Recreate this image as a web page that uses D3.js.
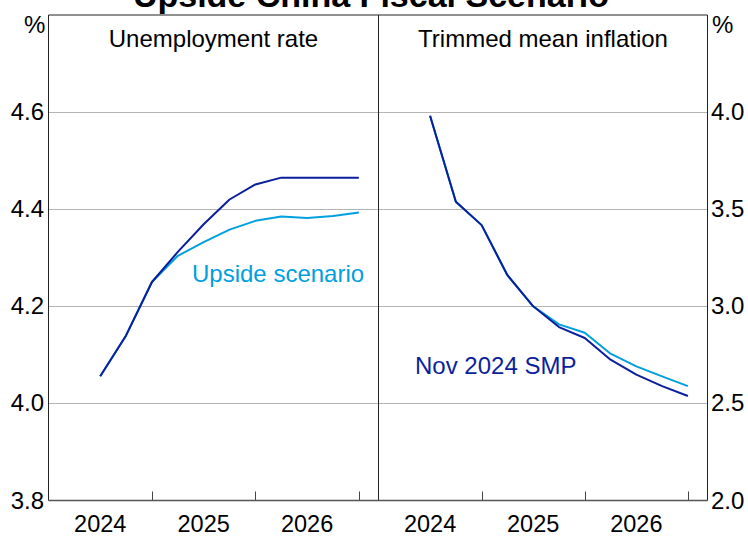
<!DOCTYPE html>
<html>
<head>
<meta charset="utf-8">
<script src="https://cdn.jsdelivr.net/npm/d3@7"></script>
<style>
  body { margin: 0; background: #fff; }
  svg { font-family: "Liberation Sans", Arial, sans-serif; }
</style>
</head>
<body>
<div class="graph"></div>
<script>
// quarterly points, Jun 2024 .. Dec 2026 (as decimal years)
const quarters = [2024.5, 2024.75, 2025.0, 2025.25, 2025.5, 2025.75, 2026.0, 2026.25, 2026.5, 2026.75, 2027.0];
const yearLabels = [2024, 2025, 2026];

const unempSmp    = [4.056, 4.14, 4.25, 4.312, 4.369, 4.42, 4.451, 4.465, 4.465, 4.465, 4.465];
const unempUpside = [4.056, 4.14, 4.25, 4.304, 4.332, 4.358, 4.376, 4.385, 4.382, 4.386, 4.393];

const inflSmp    = [3.981, 3.538, 3.418, 3.16, 3.0, 2.893, 2.837, 2.725, 2.648, 2.589, 2.538];
const inflUpside = [3.981, 3.538, 3.418, 3.16, 3.0, 2.907, 2.864, 2.756, 2.691, 2.639, 2.589];

const leftTicks = [3.8, 4.0, 4.2, 4.4, 4.6];
const rightTicks = [2.0, 2.5, 3.0, 3.5, 4.0];

const darkBlue = "#0b1f9c";
const lightBlue = "#00a0df";

var width = 748, height = 536;
var plotTop = 15, plotBottom = 500.5;
var leftX = 48.5, midX = 378.5, rightX = 707.5;

const svg = d3.select(".graph").append("svg")
  .attr("width", width)
  .attr("height", height);

var yL = d3.scaleLinear().domain([3.8, 4.8]).range([plotBottom, plotTop]);
var yR = d3.scaleLinear().domain([2.0, 4.5]).range([plotBottom, plotTop]);
var xL = d3.scaleLinear().domain([2024, 2027.19]).range([leftX, midX]);
var xR = d3.scaleLinear().domain([2024, 2027.19]).range([midX, rightX]);

// gridlines (skip the bottom one, that's the axis)
svg.append("g").selectAll("line")
  .data(leftTicks.slice(1))
  .enter().append("line")
  .attr("x1", leftX).attr("x2", rightX)
  .attr("y1", d => Math.round(yL(d)) + 0.5)
  .attr("y2", d => Math.round(yL(d)) + 0.5)
  .attr("stroke", "#b4b4b4")
  .attr("stroke-width", 1);

// y tick labels
svg.append("g").selectAll("text")
  .data(leftTicks)
  .enter().append("text")
  .attr("x", 44).attr("y", d => yL(d) + 8)
  .attr("text-anchor", "end")
  .attr("font-size", 24)
  .text(d => d.toFixed(1));

svg.append("g").selectAll("text")
  .data(rightTicks)
  .enter().append("text")
  .attr("x", 711).attr("y", d => yR(d) + 8)
  .attr("font-size", 24)
  .text(d => d.toFixed(1));

svg.append("text").attr("x", 24).attr("y", 33).attr("font-size", 24).text("%");
svg.append("text").attr("x", 712).attr("y", 33).attr("font-size", 24).text("%");

// x ticks and labels
function xAxis(x) {
  svg.append("g").selectAll("line")
    .data([2025, 2026, 2027])
    .enter().append("line")
    .attr("x1", d => Math.round(x(d)) + 0.5).attr("x2", d => Math.round(x(d)) + 0.5)
    .attr("y1", plotBottom - 9).attr("y2", plotBottom)
    .attr("stroke", "#444").attr("stroke-width", 1);
  svg.append("g").selectAll("text")
    .data(yearLabels)
    .enter().append("text")
    .attr("x", d => x(d + 0.5)).attr("y", 532)
    .attr("text-anchor", "middle")
    .attr("font-size", 23.5)
    .text(d => d);
}
xAxis(xL);
xAxis(xR);

// frame + divider
svg.append("path")
  .attr("d", `M${leftX},${plotBottom} V${plotTop} H${rightX} V${plotBottom}`)
  .attr("fill", "none").attr("stroke", "#222").attr("stroke-width", 1);
svg.append("line")
  .attr("x1", midX).attr("x2", midX).attr("y1", plotTop).attr("y2", plotBottom)
  .attr("stroke", "#222").attr("stroke-width", 1);
svg.append("line")
  .attr("x1", leftX).attr("x2", rightX).attr("y1", plotBottom).attr("y2", plotBottom)
  .attr("stroke", "#555").attr("stroke-width", 1.5);

// lines
function drawLine(x, y, vals, color) {
  svg.append("path")
    .datum(vals)
    .attr("fill", "none")
    .attr("stroke", color)
    .attr("stroke-width", 2)
    .attr("stroke-linejoin", "round")
    .attr("d", d3.line()
      .x((d, i) => x(quarters[i]))
      .y(d => y(d)));
}
drawLine(xL, yL, unempUpside, lightBlue);
drawLine(xL, yL, unempSmp, darkBlue);
drawLine(xR, yR, inflUpside, lightBlue);
drawLine(xR, yR, inflSmp, darkBlue);

// panel titles
svg.append("text").attr("x", (leftX + midX) / 2).attr("y", 47)
  .attr("text-anchor", "middle").attr("font-size", 24).text("Unemployment rate");
svg.append("text").attr("x", (midX + rightX) / 2).attr("y", 47)
  .attr("text-anchor", "middle").attr("font-size", 24).text("Trimmed mean inflation");

// series labels
svg.append("text").attr("x", 192).attr("y", 282)
  .attr("font-size", 24).attr("fill", lightBlue).text("Upside scenario");
svg.append("text").attr("x", 415).attr("y", 374)
  .attr("font-size", 24).attr("fill", darkBlue).text("Nov 2024 SMP");

// chart title, mostly cropped off the top
svg.append("text").attr("x", 371).attr("y", 7)
  .attr("text-anchor", "middle").attr("font-size", 34).attr("font-weight", "bold")
  .text("Upside China Fiscal Scenario");
</script>
</body>
</html>
